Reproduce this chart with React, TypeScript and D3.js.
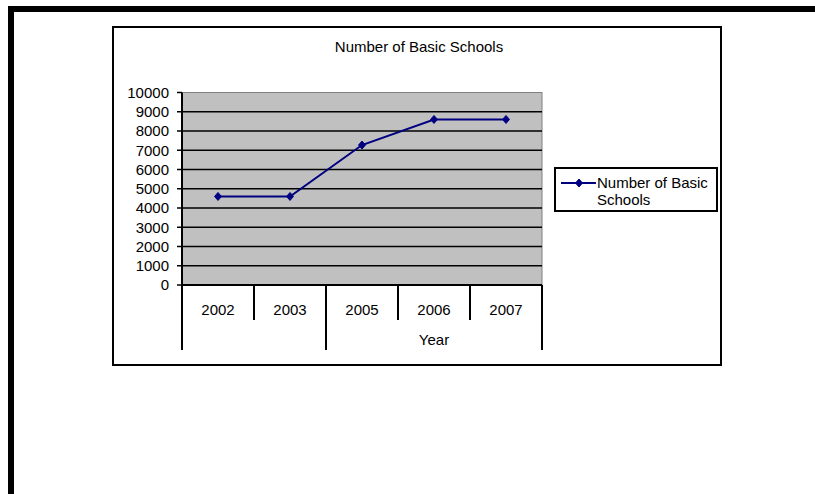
import React from "react";
import * as d3 from "d3";

const title = "Number of Basic Schools";
const seriesName = "Number of Basic Schools";
const categories = ["2002", "2003", "2005", "2006", "2007"];
const categoryGroups = ["", "", "Year", "Year", "Year"];
const values = [4600, 4600, 7270, 8600, 8600];
const yTicks = [0, 1000, 2000, 3000, 4000, 5000, 6000, 7000, 8000, 9000, 10000];

const FONT = "'Liberation Sans', Arial, sans-serif";
const NAVY = "#000080";

function diamond(cx: number, cy: number) {
  return `M${cx},${cy - 4}L${cx + 3.5},${cy}L${cx},${cy + 4}L${cx - 3.5},${cy}Z`;
}

export default function App() {
  const W = 815;
  const H = 494;
  const plot = { left: 182, right: 542, top: 92.5, bottom: 285 };
  const x = d3.scaleBand<string>().domain(categories).range([plot.left, plot.right]).padding(0);
  const y = d3.scaleLinear().domain([0, 10000]).range([plot.bottom, plot.top]);
  const line = d3
    .line<number>()
    .x((_, i) => (x(categories[i]) as number) + x.bandwidth() / 2)
    .y((d) => y(d));

  // group spans for second-level category axis
  const groups: { label: string; start: number; end: number }[] = [];
  categoryGroups.forEach((g, i) => {
    const last = groups[groups.length - 1];
    if (last && last.label === g) last.end = i;
    else groups.push({ label: g, start: i, end: i });
  });
  const bandX = (i: number) => x(categories[i]) as number;

  return (
    <div style={{ position: "absolute", left: 0, top: 0 }}>
      <svg width={W} height={H} style={{ display: "block", background: "#fff" }}>
        {/* outer frame */}
        <path d={`M11,${H}L11,9L${W},9`} fill="none" stroke="#000" strokeWidth={6} />
        {/* chart area */}
        <rect x={113} y={27} width={608} height={338} fill="#fff" stroke="#000" strokeWidth={2} />
        <text x={419} y={52} textAnchor="middle" fontFamily={FONT} fontSize={15} fill="#000">
          {title}
        </text>
        {/* plot area */}
        <rect
          x={plot.left}
          y={plot.top}
          width={plot.right - plot.left}
          height={plot.bottom - plot.top}
          fill="#C0C0C0"
          stroke="#808080"
          strokeWidth={1}
        />
        {yTicks
          .filter((t) => t > 0 && t < 10000)
          .map((t) => (
            <line key={t} x1={plot.left} x2={plot.right} y1={y(t)} y2={y(t)} stroke="#000" strokeWidth={1.5} />
          ))}
        {/* y axis */}
        <line x1={plot.left} x2={plot.left} y1={plot.top} y2={plot.bottom} stroke="#000" strokeWidth={2} />
        {yTicks.map((t) => (
          <g key={t}>
            <line x1={plot.left - 5} x2={plot.left} y1={y(t)} y2={y(t)} stroke="#000" strokeWidth={1.5} />
            <text
              x={169}
              y={y(t)}
              dy="0.35em"
              textAnchor="end"
              fontFamily={FONT}
              fontSize={15}
              fill="#000"
            >
              {t}
            </text>
          </g>
        ))}
        {/* x axis */}
        <line x1={plot.left} x2={plot.right} y1={plot.bottom} y2={plot.bottom} stroke="#000" strokeWidth={2} />
        {categories.map((c, i) =>
          i > 0 ? (
            <line key={"d" + c} x1={bandX(i)} x2={bandX(i)} y1={plot.bottom} y2={320} stroke="#000" strokeWidth={2} />
          ) : null
        )}
        {categories.map((c) => (
          <text
            key={"l" + c}
            x={(x(c) as number) + x.bandwidth() / 2}
            y={310}
            dy="0.35em"
            textAnchor="middle"
            fontFamily={FONT}
            fontSize={15}
            fill="#000"
          >
            {c}
          </text>
        ))}
        {groups.map((g, gi) => {
          const x0 = bandX(g.start);
          const x1 = bandX(g.end) + x.bandwidth();
          return (
            <g key={"g" + gi}>
              <line x1={x0} x2={x0} y1={plot.bottom} y2={350} stroke="#000" strokeWidth={2} />
              {gi === groups.length - 1 ? (
                <line x1={x1} x2={x1} y1={plot.bottom} y2={350} stroke="#000" strokeWidth={2} />
              ) : null}
              {g.label ? (
                <text
                  x={(x0 + x1) / 2}
                  y={340}
                  dy="0.35em"
                  textAnchor="middle"
                  fontFamily={FONT}
                  fontSize={15}
                  fill="#000"
                >
                  {g.label}
                </text>
              ) : null}
            </g>
          );
        })}
        {/* series */}
        <path d={line(values) || ""} fill="none" stroke={NAVY} strokeWidth={2} />
        {values.map((v, i) => (
          <path
            key={"m" + i}
            d={diamond((x(categories[i]) as number) + x.bandwidth() / 2, y(v))}
            fill={NAVY}
            stroke={NAVY}
            strokeWidth={1}
          />
        ))}
        {/* legend */}
        <rect x={555} y={168} width={162} height={43} fill="#fff" stroke="#000" strokeWidth={2} />
        <line x1={561} x2={596} y1={183} y2={183} stroke={NAVY} strokeWidth={2} />
        <path d={diamond(579, 183)} fill={NAVY} stroke={NAVY} strokeWidth={1} />
        <text x={597} y={183} dy="0.35em" fontFamily={FONT} fontSize={15} fill="#000">
          Number of Basic
        </text>
        <text x={597} y={200} dy="0.35em" fontFamily={FONT} fontSize={15} fill="#000">
          Schools
        </text>
      </svg>
    </div>
  );
}
